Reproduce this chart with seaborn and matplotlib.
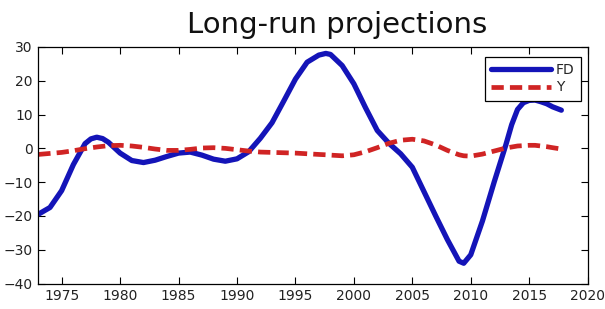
import matplotlib
matplotlib.use("Agg")
import matplotlib.pyplot as plt
import seaborn as sns
import pandas as pd

# ---- data ----
years = [1973.0, 1974, 1975, 1976, 1977, 1977.5, 1978, 1978.5, 1979, 1980, 1981, 1982,
         1983, 1984, 1985, 1986, 1987, 1988, 1989, 1990, 1991, 1992, 1993, 1994,
         1995, 1996, 1997, 1997.6, 1998, 1999, 2000, 2001, 2002, 2003, 2004, 2005,
         2006, 2007, 2008, 2009, 2009.4, 2010, 2011, 2012, 2013, 2013.5, 2014,
         2014.5, 2015, 2015.5, 2016, 2016.5, 2017, 2017.75]
fd = [-19.5, -17.5, -12.5, -4.8, 1.4, 2.8, 3.3, 2.9, 1.8, -1.4, -3.6, -4.2,
      -3.5, -2.4, -1.4, -1.1, -2.0, -3.2, -3.8, -3.1, -1.0, 3.0, 7.6, 14.0,
      20.5, 25.5, 27.6, 28.1, 27.8, 24.5, 19.1, 12.0, 5.3, 1.5, -1.6, -5.6,
      -12.8, -20.0, -27.0, -33.4, -34.0, -31.5, -21.5, -10.0, 1.0, 7.0, 11.5,
      13.5, 14.2, 14.3, 13.8, 13.2, 12.3, 11.3]
y_ser = [-1.8, -1.5, -1.2, -0.7, -0.1, 0.15, 0.4, 0.6, 0.8, 0.9, 0.7, 0.3,
         -0.2, -0.6, -0.6, -0.3, 0.1, 0.2, 0.0, -0.4, -0.8, -1.1, -1.2, -1.3,
         -1.4, -1.6, -1.8, -1.9, -2.0, -2.2, -1.9, -1.0, 0.2, 1.5, 2.4, 2.7,
         2.2, 1.0, -0.6, -1.9, -2.2, -2.3, -1.7, -0.8, 0.1, 0.4, 0.7,
         0.8, 0.9, 0.9, 0.7, 0.5, 0.2, -0.2]
x_ticks = [1975, 1980, 1985, 1990, 1995, 2000, 2005, 2010, 2015, 2020]
y_ticks = [-40, -30, -20, -10, 0, 10, 20, 30]
title = "Long-run projections"

df = pd.DataFrame({"year": years, "FD": fd, "Y": y_ser})

sns.set_theme(style="white")
plt.rcParams["font.family"] = ["DejaVu Sans"]

fig = plt.figure(figsize=(6.05, 3.09), dpi=100)
ax = fig.add_axes([0.0633, 0.0825, 0.908, 0.7654])

sns.lineplot(data=df, x="year", y="FD", ax=ax, color="#1414b8", lw=3.8,
             label="FD", solid_capstyle="round", solid_joinstyle="round")
sns.lineplot(data=df, x="year", y="Y", ax=ax, color="#d02424", lw=3.4,
             linestyle=(0, (2.6, 1.3)), label="Y")

ax.set_xlim(1973, 2020)
ax.set_ylim(-40, 30)
ax.set_xticks(x_ticks)
ax.set_yticks(y_ticks)
ax.set_xlabel("")
ax.set_ylabel("")
ax.tick_params(direction="in", length=5, width=0.8, color="black",
               top=True, right=True, bottom=True, left=True,
               labelsize=10, labelcolor="#222222", pad=4)
for s in ax.spines.values():
    s.set_visible(True)
    s.set_color("black")
    s.set_linewidth(0.9)

ax.set_title(title, fontsize=21, x=0.544, pad=10, color="#111111")

leg = ax.legend(loc="upper right", bbox_to_anchor=(0.988, 0.959),
                borderaxespad=0, fancybox=False, framealpha=1,
                edgecolor="black", fontsize=10, handlelength=4.3,
                handletextpad=0.35, borderpad=0.45, labelspacing=0.25)
leg.get_frame().set_linewidth(0.9)

fig.savefig("out.png", dpi=100, facecolor="white")
